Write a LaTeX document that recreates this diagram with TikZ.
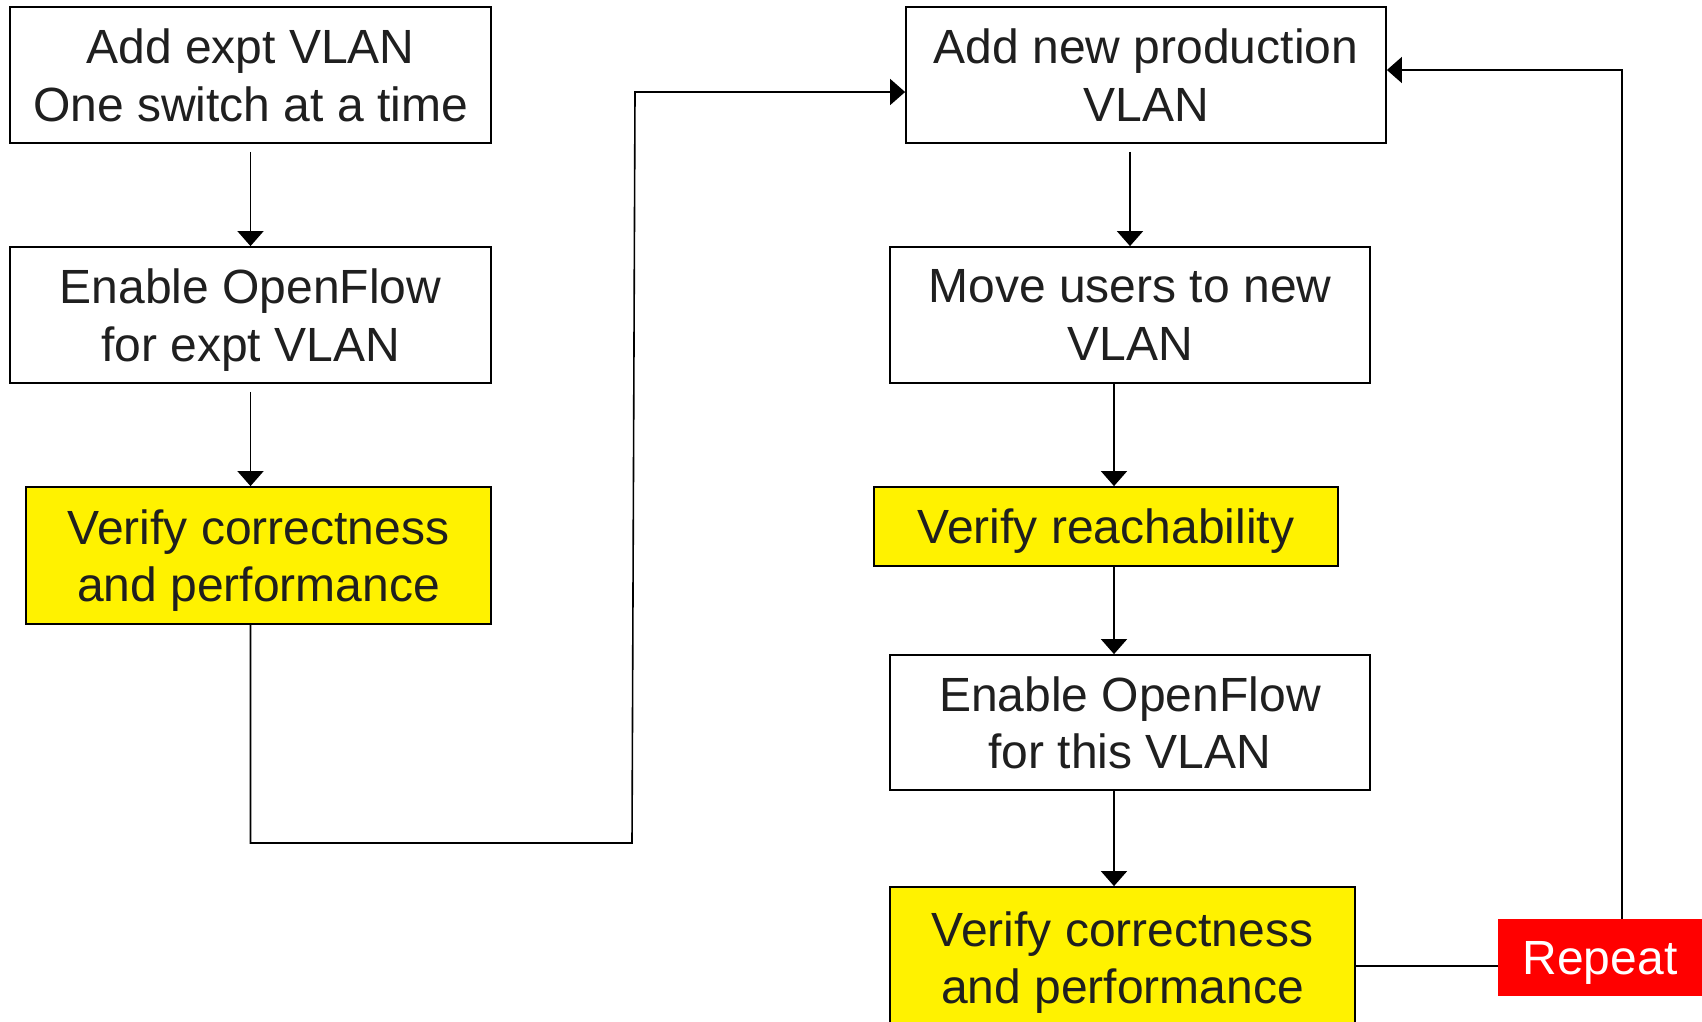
\documentclass[tikz,border=0pt]{standalone}
\usepackage{fontspec}
\setmainfont{Liberation Sans}
\usetikzlibrary{arrows.meta}
\newcommand{\nodepth}[1]{\raisebox{0pt}[\height][0pt]{#1}}
\begin{document}
\begin{tikzpicture}[x=1pt,y=-1pt,
  stepbox/.style={draw=black,line width=1.8pt,inner sep=0pt,align=center,
    font=\fontsize{48}{57.5}\selectfont,text=black!88},
  hlbox/.style={stepbox,fill=yellow},
  conn/.style={line width=1.6pt,draw=black},
  arr/.style={conn,-{Triangle[width=26pt,length=15pt]}}]
\useasboundingbox (0,0) rectangle (1702,1021);
\fill[white] (0,0) rectangle (1702,1021);
% left column
\node[stepbox,minimum width=481pt,minimum height=136pt] (b1) at (250.5,75) {Add expt VLAN\\\nodepth{One switch at a time}};
\node[stepbox,minimum width=481pt,minimum height=136pt] (b2) at (250.5,315) {Enable OpenFlow\\\nodepth{for expt VLAN}};
\node[hlbox,minimum width=465pt,minimum height=137pt] (b3) at (258.5,555.5) {Verify correctness\\\nodepth{and performance}};
% right column
\node[stepbox,minimum width=480pt,minimum height=136pt] (b4) at (1146,75) {Add new production\\\nodepth{VLAN}};
\node[stepbox,minimum width=480pt,minimum height=136pt] (b5) at (1130,315) {Move users to new\\\nodepth{VLAN}};
\node[hlbox,minimum width=464pt,minimum height=79pt] (b6) at (1106,526.5) {\nodepth{Verify reachability}};
\node[stepbox,minimum width=480pt,minimum height=135pt] (b7) at (1130,722.5) {Enable OpenFlow\\\nodepth{for this VLAN}};
\node[hlbox,minimum width=465pt,minimum height=141pt] (b8) at (1122.5,957.5) {Verify correctness\\\nodepth{and performance}};
\node[fill=red,text=white,inner sep=0pt,minimum width=204pt,minimum height=77pt,
  font=\fontsize{48}{57.5}\selectfont] (rep) at (1600,957.5) {\nodepth{Repeat}};
% helper coordinates
\coordinate (c0) at (250.5,843);
\coordinate (c1) at (632,843);
\coordinate (c2) at (635,92);
\coordinate (sp) at (1114,0);
\coordinate (ry) at (0,966);
\coordinate (r1) at (1622,70);
% connectors
\draw[arr,shorten <=8pt] (b1.south) -- (b2.north);
\draw[arr,shorten <=8pt] (b2.south) -- (b2.south |- b3.north);
\draw[arr] (b3.south -| c0) -- (c0) -- (c1) -- (c2) -- (c2 -| b4.west);
\draw[arr,shorten <=8pt] (b4.south -| b5.north) -- (b5.north);
\draw[arr] (b5.south -| sp) -- (b6.north -| sp);
\draw[arr] (b6.south -| sp) -- (b7.north -| sp);
\draw[arr] (b7.south -| sp) -- (b8.north -| sp);
\draw[conn] (b8.east |- ry) -- (rep.west |- ry);
\draw[arr] (rep.north -| r1) -- (r1) -- (r1 -| b4.east);
\end{tikzpicture}
\end{document}
